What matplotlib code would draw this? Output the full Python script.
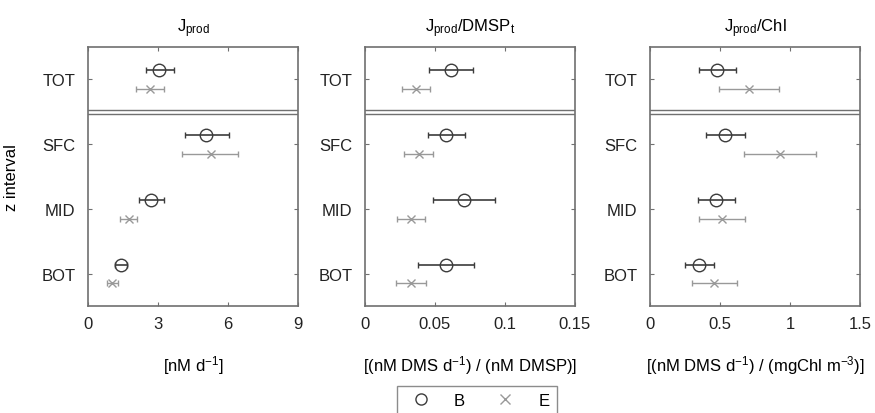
import numpy as np
import matplotlib
matplotlib.use("Agg")
import matplotlib.pyplot as plt
from matplotlib.lines import Line2D

plt.rcParams['font.family'] = ['Liberation Sans', 'DejaVu Sans']
plt.rcParams['mathtext.default'] = 'regular'

# data: categories from bottom to top
zones = ['BOT', 'MID', 'SFC', 'TOT']

# panel 1: J_prod [nM d-1]
jp_B = [1.41, 2.71, 5.07, 3.06]
jp_B_lo = [1.16, 2.20, 4.16, 2.47]
jp_B_hi = [1.66, 3.27, 6.06, 3.69]
jp_E = [1.04, 1.74, 5.27, 2.67]
jp_E_lo = [0.83, 1.37, 4.04, 2.06]
jp_E_hi = [1.27, 2.11, 6.44, 3.27]

# panel 2: J_prod / DMSP_t
jd_B = [0.0581, 0.0707, 0.0581, 0.0614]
jd_B_lo = [0.0381, 0.0486, 0.0452, 0.0457]
jd_B_hi = [0.0781, 0.0929, 0.0714, 0.0769]
jd_E = [0.0329, 0.0329, 0.0386, 0.0364]
jd_E_lo = [0.0219, 0.0233, 0.0279, 0.0267]
jd_E_hi = [0.0440, 0.0426, 0.0486, 0.0462]

# panel 3: J_prod / Chl
jc_B = [0.352, 0.474, 0.536, 0.481]
jc_B_lo = [0.250, 0.343, 0.400, 0.350]
jc_B_hi = [0.457, 0.607, 0.681, 0.612]
jc_E = [0.457, 0.512, 0.929, 0.707]
jc_E_lo = [0.302, 0.348, 0.667, 0.495]
jc_E_hi = [0.617, 0.676, 1.186, 0.917]

titles = ['J$_{prod}$', 'J$_{prod}$/DMSP$_t$', 'J$_{prod}$/Chl']
xlabels = ['[nM d$^{-1}$]', '[(nM DMS d$^{-1}$) / (nM DMSP)]',
           '[(nM DMS d$^{-1}$) / (mgChl m$^{-3}$)]']
xlims = [(0, 9), (0, 0.15), (0, 1.5)]
xticks = [[0, 3, 6, 9], [0, 0.05, 0.1, 0.15], [0, 0.5, 1, 1.5]]
xticklabels = [['0', '3', '6', '9'], ['0', '0.05', '0.1', '0.15'], ['0', '0.5', '1', '1.5']]

panels = [
    (jp_B, jp_B_lo, jp_B_hi, jp_E, jp_E_lo, jp_E_hi),
    (jd_B, jd_B_lo, jd_B_hi, jd_E, jd_E_lo, jd_E_hi),
    (jc_B, jc_B_lo, jc_B_hi, jc_E, jc_E_lo, jc_E_hi),
]

cB = '#3c3c3c'
cE = '#999999'
frame = '#707070'
fs = 12

fig = plt.figure(figsize=(8.75, 4.14), dpi=100)
lefts = [0.1006, 0.417, 0.743]
y = np.arange(1, len(zones) + 1)

for i, (bv, blo, bhi, ev, elo, ehi) in enumerate(panels):
    ax = fig.add_axes([lefts[i], 0.2585, 0.24, 0.6256])
    bv, blo, bhi = np.array(bv), np.array(blo), np.array(bhi)
    ev, elo, ehi = np.array(ev), np.array(elo), np.array(ehi)
    ax.errorbar(bv, y + 0.14, xerr=[bv - blo, bhi - bv], fmt='o', mfc='none',
                mec=cB, ecolor=cB, ms=9, mew=1, elinewidth=1.2, capsize=2.5)
    ax.errorbar(ev, y - 0.15, xerr=[ev - elo, ehi - ev], fmt='x', color=cE,
                ms=6, mew=1, elinewidth=1, capsize=2.5)
    ax.axhline(3.47, color=frame, lw=1)
    ax.axhline(3.53, color=frame, lw=1)
    ax.set_xlim(*xlims[i])
    ax.set_ylim(0.5, 4.5)
    ax.set_xticks(xticks[i])
    ax.set_xticklabels(xticklabels[i], fontsize=fs)
    ax.set_yticks(y)
    ax.set_yticklabels(zones, fontsize=fs)
    ax.tick_params(direction='in', top=True, right=True, length=3, colors=frame,
                   labelcolor='#222222', pad=7)
    ax.tick_params(axis='y', pad=9)
    for s in ax.spines.values():
        s.set_color(frame)
        s.set_linewidth(1.2)
    ax.set_title(titles[i], fontsize=fs, pad=11)
    ax.set_xlabel(xlabels[i], fontsize=fs, labelpad=16)
    if i == 0:
        ax.set_ylabel('z interval', fontsize=fs, labelpad=16)

handles = [Line2D([], [], ls='none', marker='o', mfc='none', mec=cB, ms=8),
           Line2D([], [], ls='none', marker='x', color=cE, ms=7)]
fig.legend(handles, ['B', 'E'], loc='upper center', bbox_to_anchor=(0.545, 0.066),
           ncol=2, frameon=True, fancybox=False, edgecolor=frame, fontsize=fs,
           columnspacing=1.4, handletextpad=1.0, borderpad=0.45, borderaxespad=0)

fig.savefig('out.png', dpi=100)
